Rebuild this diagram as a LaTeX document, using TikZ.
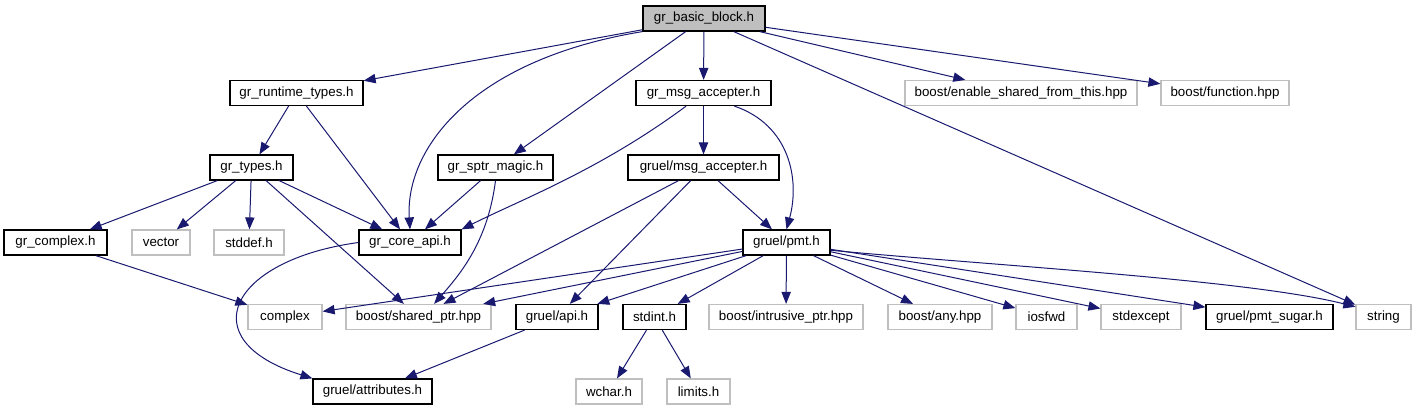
\documentclass[tikz,border=0pt]{standalone}
\usepackage{fontspec}
\setmainfont{Liberation Sans}
\usetikzlibrary{arrows.meta}
\definecolor{edgeblue}{HTML}{191970}
\definecolor{boxgray}{HTML}{BFBFBF}
\begin{document}
\begin{tikzpicture}[
  x=0.75pt, y=-0.75pt,
  hdr/.style={rectangle, draw=black, line width=0.9pt, fill=white, minimum height=18.75pt, minimum width=#1, inner sep=0pt, font=\fontsize{10}{12}\selectfont},
  ext/.style={hdr=#1, draw=boxgray},
  arrow/.style={-{Triangle[length=9pt, width=7pt]}, draw=edgeblue, line width=0.75pt}
]
  \useasboundingbox (0,0) rectangle (1416,411);
  % Top header
  \node[hdr=91.5pt, fill=boxgray] (bb) at (704,18.5) {gr\_basic\_block.h};
  % Second row
  \node[hdr=99.75pt] (rt) at (296.5,93) {gr\_runtime\_types.h};
  \node[hdr=101.25pt] (msgacc) at (703.5,93) {gr\_msg\_accepter.h};
  \node[ext=174pt] (esft) at (1021,93) {boost/enable\_shared\_from\_this.hpp};
  \node[ext=96pt] (func) at (1225,93) {boost/function.hpp};
  % Third row
  \node[hdr=62.25pt] (types) at (251.5,167.5) {gr\_types.h};
  \node[hdr=86.25pt] (sptr) at (495.5,167.5) {gr\_sptr\_magic.h};
  \node[hdr=113.25pt] (gmsg) at (703.5,167.5) {gruel/msg\_accepter.h};
  % Fourth row
  \node[hdr=77.25pt] (cplx) at (55.5,242.5) {gr\_complex.h};
  \node[ext=43.5pt] (vec) at (161,242.5) {vector};
  \node[ext=52.5pt] (stddef) at (249,242.5) {stddef.h};
  \node[hdr=76.5pt] (coreapi) at (410,242.5) {gr\_core\_api.h};
  \node[hdr=65.25pt] (pmt) at (786.5,242.5) {gruel/pmt.h};
  % Fifth row
  \node[ext=55.5pt] (complex) at (285,317) {complex};
  \node[ext=108.75pt] (shptr) at (418.5,317) {boost/shared\_ptr.hpp};
  \node[hdr=61.5pt] (api) at (557,317) {gruel/api.h};
  \node[hdr=47.25pt] (stdint) at (654.5,317) {stdint.h};
  \node[ext=115.5pt] (intr) at (786,317) {boost/intrusive\_ptr.hpp};
  \node[ext=78pt] (any) at (940,317) {boost/any.hpp};
  \node[ext=45.75pt] (iosfwd) at (1046.5,317) {iosfwd};
  \node[ext=60pt] (stdexc) at (1141,317) {stdexcept};
  \node[hdr=95.25pt] (sugar) at (1269.5,317) {gruel/pmt\_sugar.h};
  \node[ext=41.25pt] (string) at (1383.5,317) {string};
  % Bottom row
  \node[hdr=89.25pt] (attr) at (372.5,391.5) {gruel/attributes.h};
  \node[ext=49.5pt] (wchar) at (609,391.5) {wchar.h};
  \node[ext=47.25pt] (limits) at (698.5,391.5) {limits.h};
  % Edges from gr_basic_block.h
  \draw[arrow] (bb) -- (rt);
  \draw[arrow] (bb.south west) .. controls (470,60) and (405,150) .. (coreapi.north);
  \draw[arrow] (bb) -- (sptr);
  \draw[arrow] (bb) -- (msgacc);
  \draw[arrow] (bb) -- (esft);
  \draw[arrow] (bb) -- (func);
  \draw[arrow] (bb) -- (string);
  % Runtime types and types
  \draw[arrow] (rt) -- (types);
  \draw[arrow] (rt) -- (coreapi);
  \draw[arrow] (types) -- (cplx);
  \draw[arrow] (types) -- (vec);
  \draw[arrow] (types) -- (stddef);
  \draw[arrow] (types) -- (coreapi);
  \draw[arrow] (types) -- (shptr);
  \draw[arrow] (cplx) -- (complex);
  \draw[arrow] (coreapi.west) .. controls (230,260) and (190,340) .. (attr.north west);
  % Sptr magic
  \draw[arrow] (sptr) -- (coreapi);
  \draw[arrow] (sptr.south) .. controls (488,240) and (462,272) .. (shptr.40);
  % Msg accepter
  \draw[arrow] (msgacc.217) .. controls (600,170) and (520,200) .. (coreapi.north east);
  \draw[arrow] (msgacc) -- (gmsg);
  \draw[arrow] (msgacc.337) .. controls (790,125) and (800,180) .. (pmt.north);
  \draw[arrow] (gmsg) -- (shptr);
  \draw[arrow] (gmsg) -- (api);
  \draw[arrow] (gmsg) -- (pmt);
  % Pmt
  \draw[arrow] (pmt) -- (complex);
  \draw[arrow] (pmt) -- (shptr);
  \draw[arrow] (pmt) -- (api);
  \draw[arrow] (pmt) -- (stdint);
  \draw[arrow] (pmt) -- (intr);
  \draw[arrow] (pmt) -- (any);
  \draw[arrow] (pmt) -- (iosfwd);
  \draw[arrow] (pmt) -- (stdexc);
  \draw[arrow] (pmt) -- (sugar);
  \draw[arrow] (pmt.350) .. controls (1000,266) and (1250,280) .. (string.160);
  % Lower headers
  \draw[arrow] (api) -- (attr);
  \draw[arrow] (stdint) -- (wchar);
  \draw[arrow] (stdint) -- (limits);
\end{tikzpicture}
\end{document}
